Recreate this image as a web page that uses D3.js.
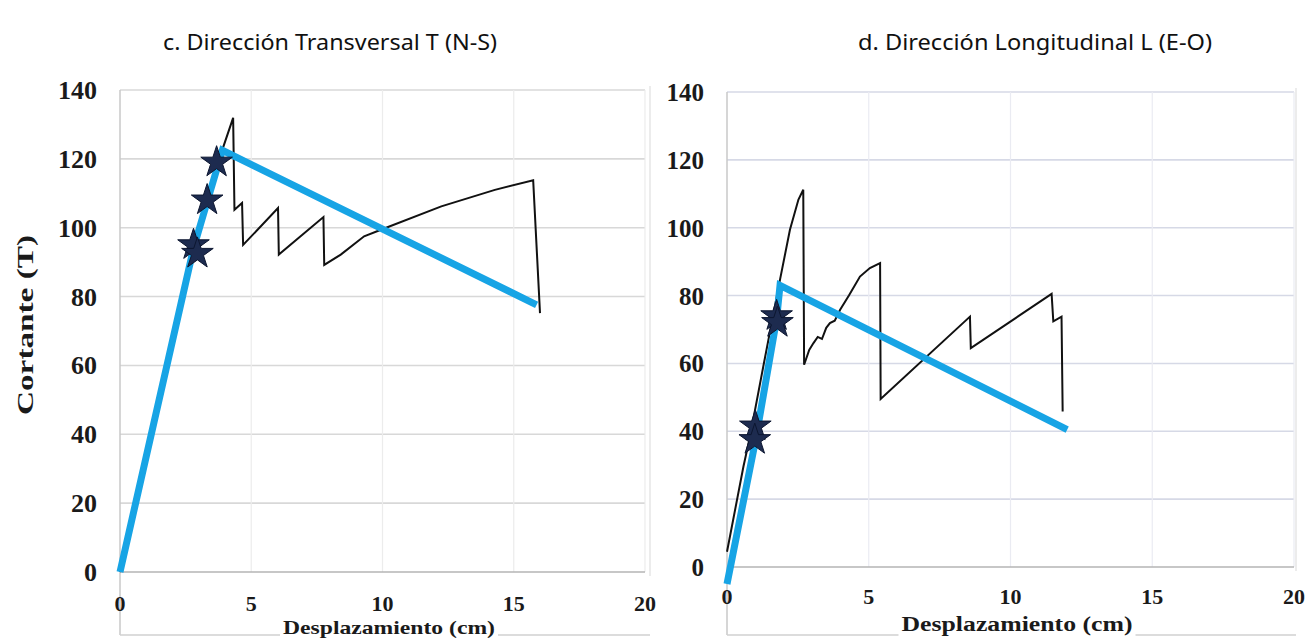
<!DOCTYPE html>
<html>
<head>
<meta charset="utf-8">
<script src="https://cdn.jsdelivr.net/npm/d3@7"></script>
<style>
  html, body { margin: 0; padding: 0; background: #ffffff; }
  svg { display: block; }
</style>
</head>
<body>
<svg id="chart" width="1310" height="643"></svg>
<script>
// ---------- DATA ----------
const titleC = "c. Dirección Transversal T (N-S)";
const titleD = "d. Dirección Longitudinal L (E-O)";
const xAxisTitle = "Desplazamiento (cm)";
const yAxisTitle = "Cortante (T)";
const xTicks = [0, 5, 10, 15, 20];
const yTicks = [0, 20, 40, 60, 80, 100, 120, 140];

// Panel c: pushover curve (black)
const cCurveX = [0, 2.8, 3.3, 3.9, 4.31, 4.36, 4.65, 4.69, 6.02, 6.05, 7.75, 7.78, 8.41, 9.3, 9.94, 12.24, 14.28, 15.74, 16.0];
const cCurveY = [0, 94, 107, 122.7, 131.9, 105.2, 107.2, 95, 105.7, 92.2, 103.1, 89.2, 92.2, 97.5, 99.4, 106.2, 111, 113.8, 75.2];
// Panel c: idealized curve (blue)
const cIdealX = [0, 2.8, 3.3, 3.9, 15.87];
const cIdealY = [0, 94, 107, 122.5, 77.6];
// Panel c: performance points (stars)
const cStarX = [2.8, 2.95, 3.32, 3.68];
const cStarY = [95, 92.5, 108, 119];

// Panel d: pushover curve (black)
const dCurveX = [0, 0.58, 0.81, 1.28, 1.87, 2.22, 2.52, 2.69, 2.72, 2.9, 3.05, 3.2, 3.35, 3.5, 3.63, 3.8, 3.99, 4.3, 4.69, 5.04, 5.4, 5.42, 8.57, 8.6, 11.45, 11.51, 11.8, 11.84];
const dCurveY = [4.5, 29.6, 38.4, 59.1, 84.7, 99.4, 108.3, 111.2, 59.6, 64, 66, 67.8, 67.2, 70.5, 71.9, 72.6, 75.8, 80, 85.6, 88.1, 89.6, 49.5, 73.8, 64.5, 80.5, 72.4, 73.8, 45.8];
// Panel d: idealized curve (blue)
const dIdealX = [0, 1.0, 1.75, 1.87, 12.0];
const dIdealY = [-5, 37, 73, 83, 40.5];
// Panel d: performance points (stars)
const dStarX = [1.0, 0.98, 1.75, 1.78];
const dStarY = [41.5, 37.5, 74, 72];

// ---------- DRAW ----------
const svg = d3.select("#chart");
const serif = "'Liberation Serif', 'Times New Roman', serif";
const sans = "'Noto Sans', 'Open Sans', sans-serif";
const BLUE = "#17a4e5";

function panel(cfg) {
  const x = d3.scaleLinear().domain([0, 20]).range([cfg.x0, cfg.x1]);
  const y = d3.scaleLinear().domain([0, 140]).range([cfg.y0, cfg.y1]);
  const g = svg.append("g");

  // horizontal gridlines
  g.append("g").selectAll("line").data(yTicks.filter(d => d > 0)).join("line")
    .attr("x1", cfg.x0).attr("x2", cfg.x1)
    .attr("y1", d => y(d)).attr("y2", d => y(d))
    .attr("stroke", cfg.grid).attr("stroke-width", 1.6);
  // vertical gridlines
  g.append("g").selectAll("line").data(xTicks.filter(d => d > 0)).join("line")
    .attr("x1", d => x(d)).attr("x2", d => x(d))
    .attr("y1", y(140)).attr("y2", y(0))
    .attr("stroke", cfg.vgrid).attr("stroke-width", 1.2);

  // frame lines
  g.append("line").attr("x1", cfg.x0).attr("x2", cfg.x0).attr("y1", y(140)).attr("y2", cfg.bottom)
    .attr("stroke", "#c8c8c8").attr("stroke-width", 1.5);
  g.append("line").attr("x1", cfg.x0).attr("x2", cfg.x1).attr("y1", y(0)).attr("y2", y(0))
    .attr("stroke", "#b5b5b5").attr("stroke-width", 1.6);
  g.append("line").attr("x1", cfg.x0).attr("x2", cfg.rightBorder).attr("y1", cfg.bottom).attr("y2", cfg.bottom)
    .attr("stroke", "#d0d0d0").attr("stroke-width", 1.5);
  g.append("line").attr("x1", cfg.rightBorder).attr("x2", cfg.rightBorder).attr("y1", y(140) - 4).attr("y2", y(0) + 4)
    .attr("stroke", "#e6e6e6").attr("stroke-width", 1.5);

  // y tick labels
  g.append("g").selectAll("text").data(yTicks).join("text")
    .attr("x", cfg.yLabelX).attr("y", d => y(d) + cfg.yLabelDy)
    .attr("text-anchor", "end")
    .attr("font-family", serif).attr("font-weight", "bold")
    .attr("font-size", cfg.yFont).attr("fill", "#1a1a1a")
    .text(d => d);

  // x tick labels
  g.append("g").selectAll("text").data(xTicks).join("text")
    .attr("x", d => x(d)).attr("y", cfg.xLabelY)
    .attr("text-anchor", "middle")
    .attr("font-family", serif).attr("font-weight", "bold")
    .attr("font-size", 22).attr("fill", "#1a1a1a")
    .text(d => d);

  // x axis title with white background
  g.append("rect").attr("x", cfg.xtCenter - cfg.xtWidth / 2 - 3).attr("y", cfg.xtY - 15)
    .attr("width", cfg.xtWidth + 6).attr("height", 22).attr("fill", "#fff");
  g.append("text").attr("x", cfg.xtCenter - cfg.xtWidth / 2).attr("y", cfg.xtY)
    .attr("font-family", serif).attr("font-weight", "bold")
    .attr("font-size", cfg.xtFont).attr("fill", "#1a1a1a")
    .attr("textLength", cfg.xtWidth).attr("lengthAdjust", "spacingAndGlyphs")
    .text(xAxisTitle);

  // black pushover curve
  const line = d3.line().x(d => x(d[0])).y(d => y(d[1]));
  g.append("path").datum(d3.zip(cfg.curveX, cfg.curveY))
    .attr("d", line).attr("fill", "none")
    .attr("stroke", "#111").attr("stroke-width", 2).attr("stroke-linejoin", "miter");
  // blue idealized curve
  g.append("path").datum(d3.zip(cfg.idealX, cfg.idealY))
    .attr("d", line).attr("fill", "none")
    .attr("stroke", BLUE).attr("stroke-width", 7).attr("stroke-linejoin", "miter");
  // stars
  const star = d3.symbol().type(d3.symbolStar).size(310);
  g.append("g").selectAll("path").data(d3.zip(cfg.starX, cfg.starY)).join("path")
    .attr("d", star)
    .attr("transform", d => `translate(${x(d[0])},${y(d[1])})`)
    .attr("fill", "#1d2b4f").attr("stroke", "#0c1630").attr("stroke-width", 1);

  // panel title
  svg.append("text").attr("x", cfg.titleCenter - cfg.titleWidth / 2).attr("y", 50)
    .attr("font-family", sans).attr("font-size", 22).attr("fill", "#111")
    .attr("textLength", cfg.titleWidth).attr("lengthAdjust", "spacingAndGlyphs")
    .text(cfg.title);
}

panel({
  title: titleC, titleCenter: 330, titleWidth: 334,
  x0: 120, x1: 645, y0: 572, y1: 90, rightBorder: 650, bottom: 635,
  grid: "#d8d8d8", vgrid: "#ececec",
  yLabelX: 97, yLabelDy: 9, yFont: 26,
  xLabelY: 611, xtCenter: 389, xtWidth: 212, xtY: 634, xtFont: 19,
  curveX: cCurveX, curveY: cCurveY, idealX: cIdealX, idealY: cIdealY, starX: cStarX, starY: cStarY
});

panel({
  title: titleD, titleCenter: 1035, titleWidth: 354,
  x0: 727, x1: 1294, y0: 567, y1: 92, rightBorder: 1296, bottom: 635,
  grid: "#d6d9e6", vgrid: "#eaebf2",
  yLabelX: 704, yLabelDy: 9, yFont: 25,
  xLabelY: 604, xtCenter: 1017, xtWidth: 231, xtY: 631, xtFont: 20,
  curveX: dCurveX, curveY: dCurveY, idealX: dIdealX, idealY: dIdealY, starX: dStarX, starY: dStarY
});

// y axis title (left panel only)
svg.append("text")
  .attr("transform", "translate(33,325) rotate(-90)")
  .attr("text-anchor", "middle")
  .attr("font-family", serif).attr("font-weight", "bold")
  .attr("font-size", 24).attr("fill", "#1a1a1a")
  .attr("textLength", 180).attr("lengthAdjust", "spacingAndGlyphs")
  .text(yAxisTitle);
</script>
</body>
</html>
